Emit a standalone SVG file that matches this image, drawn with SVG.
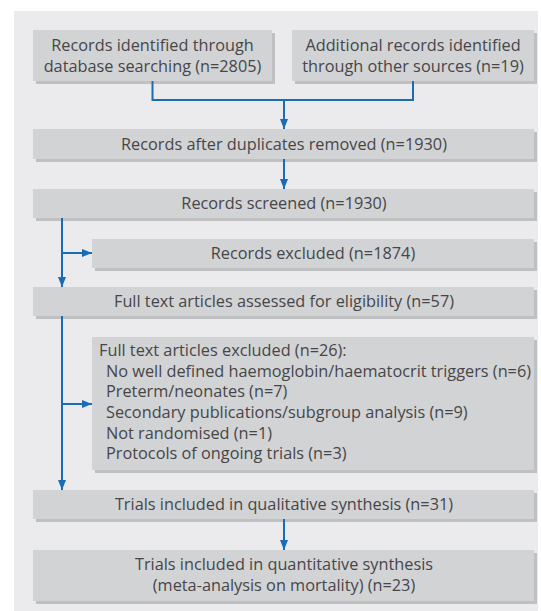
<svg xmlns="http://www.w3.org/2000/svg" width="541" height="611" viewBox="0 0 541 611">
<defs>
<style>
.bg{fill:#ffffff}
.panel{fill:#ebebed}
.box{fill:#d2d3d5}
.sh{fill:#bfc0c2}
.t{font-family:"Open Sans","Noto Sans",sans-serif;font-size:16.3px;fill:#464648}
.c{text-anchor:middle}
.ln{fill:none;stroke:#1a6db4;stroke-width:2}
</style>
<marker id="ah" viewBox="0 0 10 8" refX="10" refY="4" markerWidth="10" markerHeight="8" markerUnits="userSpaceOnUse" orient="auto">
<path d="M0,0 L10,4 L0,8 z" fill="#1a6db4"/>
</marker>
</defs>
<rect class="bg" x="0" y="0" width="541" height="611"/>
<rect class="panel" x="14" y="11" width="524" height="600"/>

<g id="n1">
<rect class="sh" x="36" y="33" width="239" height="51"/>
<rect class="box" x="33" y="30" width="239" height="51"/>
<text class="t c" x="152.5" y="51">Records identified through</text>
<text class="t c" x="152.5" y="72">database searching (n=2805)</text>
</g>
<g id="n2">
<rect class="sh" x="295" y="33" width="242" height="51"/>
<rect class="box" x="292" y="30" width="242" height="51"/>
<text class="t c" x="413" y="51">Additional records identified</text>
<text class="t c" x="413" y="72">through other sources (n=19)</text>
</g>
<g id="n3">
<rect class="sh" x="36" y="132" width="501" height="30"/>
<rect class="box" x="33" y="129" width="501" height="30"/>
<text class="t c" x="284" y="150">Records after duplicates removed (n=1930)</text>
</g>
<g id="n4">
<rect class="sh" x="36" y="192" width="501" height="29"/>
<rect class="box" x="33" y="189" width="501" height="29"/>
<text class="t c" x="284" y="209">Records screened (n=1930)</text>
</g>
<g id="n5">
<rect class="sh" x="95" y="242" width="442" height="29"/>
<rect class="box" x="92" y="239" width="442" height="29"/>
<text class="t c" x="313" y="259">Records excluded (n=1874)</text>
</g>
<g id="n6">
<rect class="sh" x="36" y="290" width="501" height="29"/>
<rect class="box" x="33" y="287" width="501" height="29"/>
<text class="t c" x="284" y="307">Full text articles assessed for eligibility (n=57)</text>
</g>
<g id="n7">
<rect class="sh" x="95" y="340" width="442" height="133"/>
<rect class="box" x="92" y="337" width="442" height="133"/>
<text class="t" x="99" y="356">Full text articles excluded (n=26):</text>
<text class="t" x="106" y="377">No well defined haemoglobin/haematocrit triggers (n=6)</text>
<text class="t" x="106" y="397">Preterm/neonates (n=7)</text>
<text class="t" x="106" y="418">Secondary publications/subgroup analysis (n=9)</text>
<text class="t" x="106" y="439">Not randomised (n=1)</text>
<text class="t" x="106" y="459">Protocols of ongoing trials (n=3)</text>
</g>
<g id="n8">
<rect class="sh" x="36" y="493" width="501" height="29"/>
<rect class="box" x="33" y="490" width="501" height="29"/>
<text class="t c" x="284" y="510">Trials included in qualitative synthesis (n=31)</text>
</g>
<g id="n9">
<rect class="sh" x="36" y="553" width="501" height="51"/>
<rect class="box" x="33" y="550" width="501" height="51"/>
<text class="t c" x="284" y="570">Trials included in quantitative synthesis</text>
<text class="t c" x="284" y="591">(meta-analysis on mortality) (n=23)</text>
</g>

<g id="connectors">
<path class="ln" d="M152.5,81 V100 H413 V81"/>
<path class="ln" d="M284,100 V129" marker-end="url(#ah)"/>
<path class="ln" d="M284,159 V189" marker-end="url(#ah)"/>
<path class="ln" d="M62,218 V287" marker-end="url(#ah)"/>
<path class="ln" d="M62,253 H92" marker-end="url(#ah)"/>
<path class="ln" d="M62,316 V490" marker-end="url(#ah)"/>
<path class="ln" d="M62,404 H92" marker-end="url(#ah)"/>
<path class="ln" d="M284,519 V550" marker-end="url(#ah)"/>
</g>
</svg>
